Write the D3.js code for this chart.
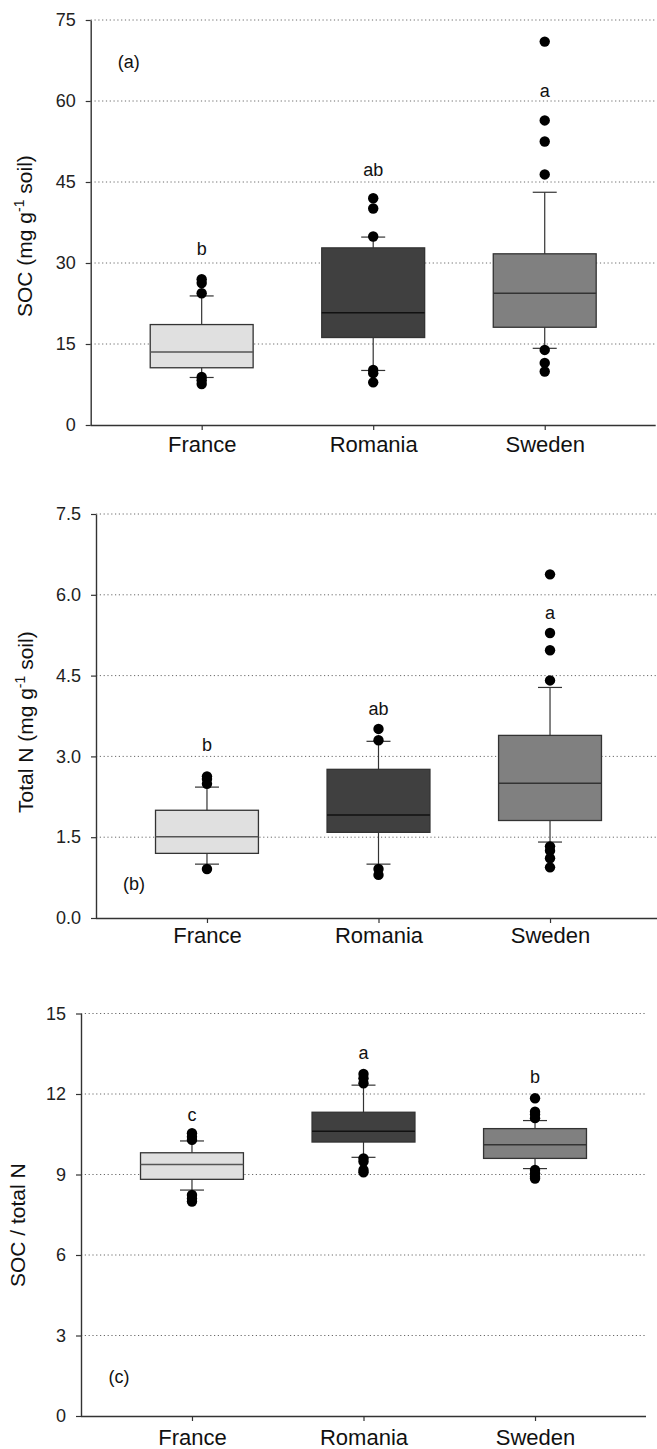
<!DOCTYPE html>
<html>
<head>
<meta charset="utf-8">
<script src="https://cdn.jsdelivr.net/npm/d3@7"></script>
<style>
  html, body { margin: 0; padding: 0; background: #fff; }
  svg { display: block; font-family: "Liberation Sans", Arial, sans-serif; }
</style>
</head>
<body>
<svg id="chart" width="657" height="1449"></svg>
<script>
// ---------------- data ----------------
const categories = ["France", "Romania", "Sweden"];

// Panel (a) SOC (mg g-1 soil): [lowerWhisker, Q1, median, Q3, upperWhisker]
const socStats = [
  [8.8, 10.6, 13.5, 18.6, 23.9],
  [10.1, 16.2, 20.8, 32.8, 34.8],
  [14.2, 18.1, 24.4, 31.7, 43.1]
];
const socOutliers = [
  [27.0, 26.3, 24.4, 8.9, 8.3, 7.6],
  [42.0, 40.1, 34.9, 10.2, 9.6, 7.9],
  [71.0, 56.4, 52.5, 46.4, 13.9, 11.5, 9.9]
];
const socLetters = ["b", "ab", "a"];
const socLetterY = [32.6, 47.2, 61.9];
const socTicks = [0, 15, 30, 45, 60, 75];

// Panel (b) Total N (mg g-1 soil)
const nStats = [
  [1.00, 1.20, 1.51, 2.00, 2.43],
  [1.00, 1.59, 1.91, 2.76, 3.28],
  [1.41, 1.81, 2.50, 3.39, 4.28]
];
const nOutliers = [
  [2.63, 2.58, 2.49, 0.91],
  [3.51, 3.30, 0.91, 0.80],
  [6.38, 5.29, 4.97, 4.41, 1.33, 1.25, 1.11, 0.94]
];
const nLetters = ["b", "ab", "a"];
const nLetterY = [3.22, 3.88, 5.67];
const nTicks = [0, 1.5, 3.0, 4.5, 6.0, 7.5];

// Panel (c) SOC / total N
const cnStats = [
  [8.42, 8.82, 9.37, 9.81, 10.25],
  [9.64, 10.21, 10.61, 11.32, 12.33],
  [9.22, 9.60, 10.11, 10.71, 11.01]
];
const cnOutliers = [
  [10.54, 10.41, 10.29, 8.24, 8.11, 7.99],
  [12.75, 12.59, 12.40, 9.60, 9.48, 9.17, 9.08],
  [11.84, 11.34, 11.24, 11.10, 9.17, 9.05, 8.92, 8.85]
];
const cnLetters = ["c", "a", "b"];
const cnLetterY = [11.22, 13.54, 12.65];
const cnTicks = [0, 3, 6, 9, 12, 15];

const boxFills = ["#e0e0e0", "#404040", "#808080"];
const medianColors = ["#555555", "#111111", "#333333"];

// ---------------- drawing ----------------
const svg = d3.select("#chart");

function panel(cfg) {
  const g = svg.append("g");
  const x = d3.scalePoint().domain(categories)
    .range([cfg.left, cfg.left + 565]).padding(0.647);
  const y = d3.scaleLinear().domain([0, cfg.max]).range([cfg.bottom, cfg.top]);
  const right = cfg.left + 565;
  const bw = x.step() * 0.6;

  // gridlines
  g.append("g").selectAll("line").data(cfg.ticks.filter(t => t > 0)).join("line")
    .attr("x1", cfg.left).attr("x2", right)
    .attr("y1", d => y(d)).attr("y2", d => y(d))
    .attr("stroke", "#6a6a6a").attr("stroke-width", 1)
    .attr("stroke-dasharray", "1.2,2.6");

  // y axis
  const ya = g.append("g").attr("transform", `translate(${cfg.left},0)`)
    .call(d3.axisLeft(y).tickValues(cfg.ticks).tickFormat(cfg.fmt)
      .tickSize(5).tickSizeOuter(0).tickPadding(10));
  ya.select(".domain").attr("stroke", "#333").attr("stroke-width", 1.4);
  ya.selectAll(".tick line").attr("stroke", "#333").attr("stroke-width", 1.2);
  ya.selectAll("text").attr("font-size", 18).attr("fill", "#222")
    .attr("font-family", "Liberation Sans, Arial, sans-serif");

  // x axis
  const xa = g.append("g").attr("transform", `translate(0,${cfg.bottom})`)
    .call(d3.axisBottom(x).tickSize(5).tickSizeOuter(0).tickPadding(6));
  xa.select(".domain").attr("stroke", "#333").attr("stroke-width", 1.4)
    .attr("d", `M${cfg.left},0.5H${right}`);
  xa.selectAll(".tick line").attr("stroke", "#333").attr("stroke-width", 1.2);
  xa.selectAll("text").attr("font-size", 22).attr("fill", "#111")
    .attr("dy", null).attr("y", cfg.labelDy)
    .attr("font-family", "Liberation Sans, Arial, sans-serif");

  const boxes = g.append("g").selectAll("g").data(categories).join("g");
  // whiskers
  boxes.append("line")
    .attr("x1", d => x(d)).attr("x2", d => x(d))
    .attr("y1", (d, i) => y(cfg.stats[i][0])).attr("y2", (d, i) => y(cfg.stats[i][4]))
    .attr("stroke", "#333").attr("stroke-width", 1.2);
  // caps
  [0, 4].forEach(k => {
    boxes.append("line")
      .attr("x1", d => x(d) - 12).attr("x2", d => x(d) + 12)
      .attr("y1", (d, i) => y(cfg.stats[i][k])).attr("y2", (d, i) => y(cfg.stats[i][k]))
      .attr("stroke", "#333").attr("stroke-width", 1.2);
  });
  // boxes
  boxes.append("rect")
    .attr("x", d => x(d) - bw / 2).attr("width", bw)
    .attr("y", (d, i) => y(cfg.stats[i][3]))
    .attr("height", (d, i) => y(cfg.stats[i][1]) - y(cfg.stats[i][3]))
    .attr("fill", (d, i) => boxFills[i]).attr("stroke", "#333").attr("stroke-width", 1.3);
  // medians
  boxes.append("line")
    .attr("x1", d => x(d) - bw / 2).attr("x2", d => x(d) + bw / 2)
    .attr("y1", (d, i) => y(cfg.stats[i][2])).attr("y2", (d, i) => y(cfg.stats[i][2]))
    .attr("stroke", (d, i) => medianColors[i]).attr("stroke-width", 1.5);
  // outliers
  boxes.each(function (d, i) {
    d3.select(this).selectAll("circle").data(cfg.outliers[i]).join("circle")
      .attr("cx", x(d)).attr("cy", v => y(v)).attr("r", 5.2).attr("fill", "#000");
  });
  // significance letters
  g.append("g").selectAll("text").data(categories).join("text")
    .attr("x", d => x(d)).attr("y", (d, i) => y(cfg.letterY[i]))
    .attr("dy", "0.35em").attr("text-anchor", "middle")
    .attr("font-size", 18).attr("fill", "#111")
    .text((d, i) => cfg.letters[i]);

  // panel label
  g.append("text").attr("x", cfg.left + 38).attr("y", y(cfg.panelY))
    .attr("dy", "0.35em").attr("text-anchor", "middle")
    .attr("font-size", 18).attr("fill", "#111").text(cfg.panelLabel);

  // y title
  const t = g.append("text")
    .attr("transform", `translate(${cfg.titleX},${cfg.titleY}) rotate(-90)`)
    .attr("text-anchor", "start").attr("font-size", 21).attr("fill", "#111");
  cfg.title(t);
}

panel({
  left: 90.7, top: 20, bottom: 425, max: 75, ticks: socTicks, fmt: d3.format("d"),
  stats: socStats, outliers: socOutliers, letters: socLetters, letterY: socLetterY,
  panelLabel: "(a)", panelY: 67.3, labelDy: 27, titleX: 32, titleY: 317,
  title: t => {
    t.append("tspan").text("SOC (mg g");
    t.append("tspan").attr("baseline-shift", "super").attr("font-size", 14).text("-1");
    t.append("tspan").text(" soil)");
  }
});

panel({
  left: 96, top: 514, bottom: 918, max: 7.5, ticks: nTicks, fmt: d3.format(".1f"),
  stats: nStats, outliers: nOutliers, letters: nLetters, letterY: nLetterY,
  panelLabel: "(b)", panelY: 0.63, labelDy: 25, titleX: 33, titleY: 813,
  title: t => {
    t.append("tspan").text("Total N (mg g");
    t.append("tspan").attr("baseline-shift", "super").attr("font-size", 14).text("-1");
    t.append("tspan").text(" soil)");
  }
});

panel({
  left: 81, top: 1013.5, bottom: 1416, max: 15, ticks: cnTicks, fmt: d3.format("d"),
  stats: cnStats, outliers: cnOutliers, letters: cnLetters, letterY: cnLetterY,
  panelLabel: "(c)", panelY: 1.47, labelDy: 29, titleX: 25, titleY: 1287,
  title: t => { t.text("SOC / total N"); }
});
</script>
</body>
</html>
